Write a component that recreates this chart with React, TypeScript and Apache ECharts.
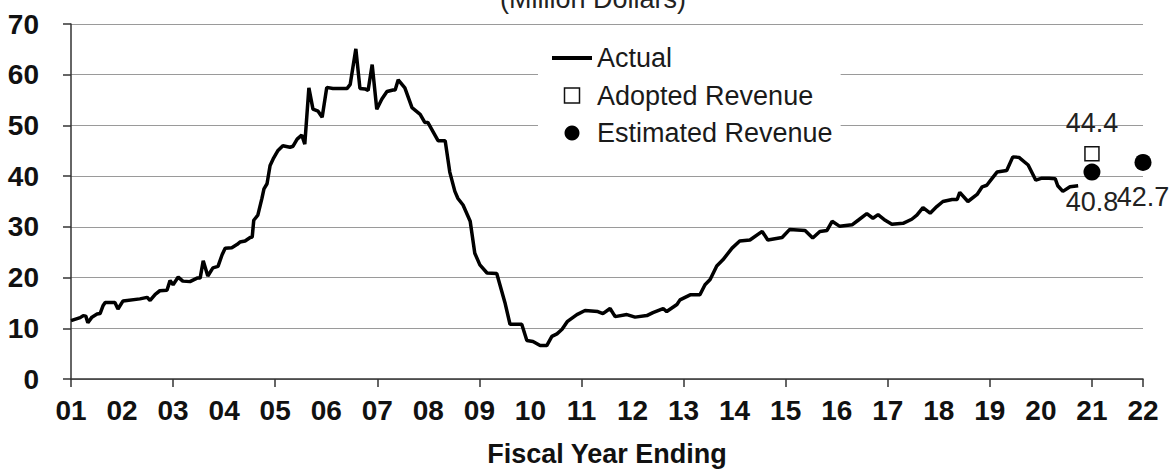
import React, { useEffect, useRef } from "react";
import * as echarts from "echarts";

const yearLabels = ["01","02","03","04","05","06","07","08","09","10","11","12","13","14","15","16","17","18","19","20","21","22"];

const actualYears = [
  2001.00, 2001.18, 2001.24, 2001.29, 2001.33, 2001.41, 2001.51, 2001.57, 2001.63, 2001.67,
  2001.86, 2001.92, 2002.02, 2002.35, 2002.49, 2002.55, 2002.65, 2002.74, 2002.88, 2002.94,
  2003.00, 2003.10, 2003.19, 2003.33, 2003.47, 2003.53, 2003.59, 2003.68, 2003.78, 2003.88,
  2003.96, 2004.02, 2004.15, 2004.25, 2004.31, 2004.41, 2004.51, 2004.55, 2004.58, 2004.66,
  2004.74, 2004.78, 2004.84, 2004.90, 2004.96, 2005.05, 2005.15, 2005.29, 2005.35, 2005.43,
  2005.52, 2005.58, 2005.66, 2005.74, 2005.84, 2005.92, 2006.01, 2006.13, 2006.41, 2006.47,
  2006.58, 2006.66, 2006.76, 2006.82, 2006.90, 2006.99, 2007.09, 2007.19, 2007.31, 2007.35,
  2007.41, 2007.54, 2007.68, 2007.84, 2007.93, 2007.99, 2008.19, 2008.33, 2008.42, 2008.52,
  2008.58, 2008.68, 2008.82, 2008.91, 2009.01, 2009.15, 2009.34, 2009.50, 2009.60, 2009.83,
  2009.93, 2010.05, 2010.19, 2010.32, 2010.42, 2010.52, 2010.62, 2010.72, 2010.91, 2011.07,
  2011.32, 2011.42, 2011.56, 2011.66, 2011.89, 2012.05, 2012.28, 2012.40, 2012.60, 2012.67,
  2012.87, 2012.93, 2013.13, 2013.32, 2013.42, 2013.52, 2013.65, 2013.77, 2013.95, 2014.10,
  2014.30, 2014.54, 2014.65, 2014.93, 2015.08, 2015.38, 2015.53, 2015.67, 2015.81, 2015.91,
  2016.06, 2016.30, 2016.42, 2016.59, 2016.71, 2016.81, 2016.95, 2017.08, 2017.30, 2017.47,
  2017.57, 2017.69, 2017.83, 2017.96, 2018.08, 2018.26, 2018.36, 2018.41, 2018.57, 2018.75,
  2018.85, 2018.94, 2019.04, 2019.14, 2019.33, 2019.45, 2019.57, 2019.75, 2019.90, 2020.02,
  2020.16, 2020.28, 2020.33, 2020.43, 2020.57, 2020.73
];

const actualValues = [
  11.5, 12.1, 12.5, 12.4, 11.1, 12.2, 12.8, 12.9, 14.5, 15.1,
  15.1, 13.8, 15.4, 15.8, 16.1, 15.5, 16.7, 17.4, 17.5, 19.4,
  18.6, 20.1, 19.3, 19.2, 19.9, 19.9, 23.3, 20.3, 21.9, 22.2,
  24.5, 25.8, 25.9, 26.5, 27.0, 27.2, 27.9, 28.0, 31.3, 32.3,
  35.6, 37.5, 38.5, 42.1, 43.4, 45.0, 46.0, 45.7, 45.9, 47.3,
  48.1, 46.3, 57.4, 53.2, 52.8, 51.6, 57.5, 57.3, 57.3, 58.1,
  65.1, 57.3, 57.2, 56.9, 62.0, 53.2, 55.2, 56.7, 57.0, 57.0,
  59.0, 57.4, 53.5, 52.2, 50.6, 50.6, 47.0, 47.0, 40.8, 37.0,
  35.6, 34.3, 31.1, 24.8, 22.5, 20.9, 20.8, 15.1, 10.8, 10.8,
  7.6, 7.4, 6.6, 6.6, 8.4, 8.9, 9.8, 11.3, 12.7, 13.5,
  13.3, 12.9, 13.9, 12.3, 12.7, 12.2, 12.5, 13.1, 13.9, 13.3,
  14.7, 15.6, 16.6, 16.6, 18.6, 19.6, 22.3, 23.5, 25.8, 27.2,
  27.4, 29.1, 27.4, 27.9, 29.5, 29.3, 27.8, 29.1, 29.3, 31.1,
  30.1, 30.4, 31.3, 32.6, 31.7, 32.4, 31.3, 30.5, 30.7, 31.5,
  32.3, 33.8, 32.7, 34.0, 35.0, 35.4, 35.4, 36.8, 35.0, 36.4,
  37.9, 38.2, 39.5, 40.8, 41.1, 43.8, 43.7, 42.2, 39.2, 39.6,
  39.6, 39.5, 38.1, 37.0, 37.9, 38.1
];

const adoptedYears = [2021];
const adoptedValues = [44.4];

const estimatedYears = [2021, 2022];
const estimatedValues = [40.8, 42.7];
const estimatedLabelGaps = [8, 13];

const FONT = "Arial, 'Liberation Sans', Helvetica, sans-serif";

export default function App() {
  const ref = useRef<HTMLDivElement>(null);

  useEffect(() => {
    if (!ref.current) return;
    const chart = echarts.init(ref.current, null, { renderer: "svg" });

    const actualData = actualYears.map((y, i) => [y, actualValues[i]]);
    const adoptedData = adoptedYears.map((y, i) => [y, adoptedValues[i]]);
    const estimatedData = estimatedYears.map((y, i) => ({
      value: [y, estimatedValues[i]],
      label: { distance: estimatedLabelGaps[i] },
    }));

    chart.setOption({
      animation: false,
      backgroundColor: "#ffffff",
      textStyle: { fontFamily: FONT },
      grid: { left: 71, right: 30, top: 24, bottom: 90, containLabel: false },
      graphic: [
        {
          type: "text",
          x: 593,
          y: -1,
          style: {
            text: "(Million Dollars)",
            font: `27px ${FONT}`,
            fill: "#222",
            textAlign: "center",
            textVerticalAlign: "middle",
          },
        },
      ],
      legend: {
        orient: "vertical",
        left: 538,
        top: 38,
        itemWidth: 40,
        itemHeight: 15,
        itemGap: 9.5,
        backgroundColor: "#ffffff",
        padding: [6, 8, 8, 14],
        textStyle: { fontSize: 27, color: "#1a1a1a", fontFamily: FONT, lineHeight: 28 },
        data: [
          {
            name: "Actual",
            icon: "path://M0 0H40V4H0Z",
            itemStyle: { color: "#000", borderWidth: 0 },
          },
          {
            name: "Adopted Revenue",
            icon: "path://M0 0H10V10H0Z",
            itemStyle: { color: "#ffffff", borderColor: "#111", borderWidth: 1.5 },
          },
          {
            name: "Estimated Revenue",
            icon: "circle",
            itemStyle: { color: "#000", borderWidth: 0 },
          },
        ],
      },
      xAxis: [
        {
          type: "value",
          min: 2001,
          max: 2022,
          show: false,
        },
        {
          type: "category",
          data: yearLabels,
          boundaryGap: false,
          position: "bottom",
          axisLine: { show: true, lineStyle: { color: "#333", width: 1.5 } },
          axisTick: { show: true, interval: 1, length: 8, lineStyle: { color: "#333", width: 1.5 } },
          axisLabel: {
            interval: 0,
            margin: 17,
            fontSize: 28,
            fontWeight: "bold",
            color: "#111",
            fontFamily: FONT,
          },
          splitLine: { show: false },
          name: "Fiscal Year Ending",
          nameLocation: "middle",
          nameGap: 61,
          nameTextStyle: { fontSize: 27, fontWeight: "bold", color: "#111", fontFamily: FONT },
        },
      ],
      yAxis: {
        type: "value",
        min: 0,
        max: 70,
        interval: 10,
        axisLine: { show: true, lineStyle: { color: "#333", width: 1.5 } },
        axisTick: { show: true, length: 8, lineStyle: { color: "#333", width: 1.5 } },
        axisLabel: {
          margin: 32,
          fontSize: 28,
          fontWeight: "bold",
          color: "#111",
          fontFamily: FONT,
        },
        splitLine: { show: true, lineStyle: { color: "#9a9a9a", width: 1.2 } },
      },
      series: [
        {
          name: "Actual",
          type: "line",
          xAxisIndex: 0,
          data: actualData,
          symbol: "none",
          lineStyle: { color: "#000", width: 3.5 },
          itemStyle: { color: "#000" },
          z: 3,
        },
        {
          name: "Adopted Revenue",
          type: "scatter",
          xAxisIndex: 0,
          data: adoptedData,
          symbol: "rect",
          symbolSize: 14,
          itemStyle: { color: "#ffffff", borderColor: "#111", borderWidth: 1.5, opacity: 1 },
          label: {
            show: true,
            position: "top",
            distance: 10,
            fontSize: 27,
            color: "#222",
            fontFamily: FONT,
          },
          z: 4,
        },
        {
          name: "Estimated Revenue",
          type: "scatter",
          xAxisIndex: 0,
          data: estimatedData,
          symbol: "circle",
          symbolSize: 17,
          itemStyle: { color: "#000", opacity: 1 },
          label: {
            show: true,
            position: "bottom",
            fontSize: 27,
            color: "#222",
            fontFamily: FONT,
            formatter: (p: any) => String(p.value[1]),
          },
          z: 4,
        },
      ],
    });

    return () => chart.dispose();
  }, []);

  return (
    <div
      ref={ref}
      style={{ position: "absolute", left: 0, top: 0, width: 1173, height: 472 }}
    />
  );
}
